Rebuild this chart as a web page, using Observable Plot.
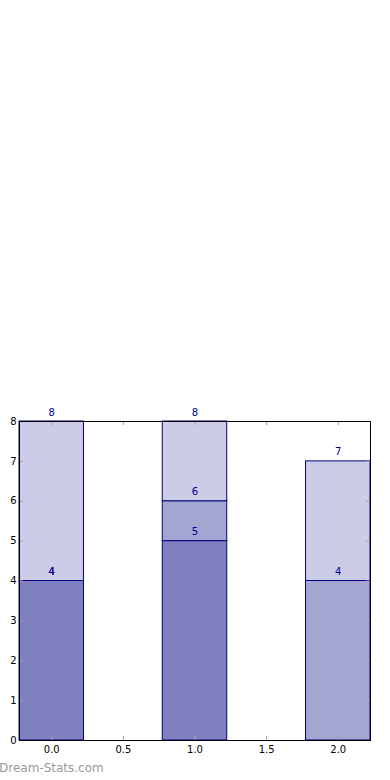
<!DOCTYPE html>
<html>
<head>
<meta charset="utf-8">
<script src="https://cdn.jsdelivr.net/npm/d3@7"></script>
<script src="https://cdn.jsdelivr.net/npm/@observablehq/plot@0.6"></script>
<style>
  html, body { margin: 0; padding: 0; background: #fff; }
  #wrap { position: relative; width: 390px; height: 780px; overflow: hidden; }
  #wm { position: absolute; left: -1px; top: 761px; font-family: "DejaVu Sans", sans-serif; font-size: 12px; color: #999999; }
</style>
</head>
<body>
<div id="wrap"><div id="chart"></div><div id="wm">Dream-Stats.com</div></div>
<script>
const categories = [0, 1, 2];
const seriesNames = ["dark", "medium", "light"];
const seriesDark = [4, 5, null];
const seriesMedium = [0, 1, 4];
const seriesLight = [4, 2, 3];
const seriesColors = ["#8080c0", "#a5a5d2", "#cccce6"];
const yTicks = [0, 1, 2, 3, 4, 5, 6, 7, 8];
const xTicks = [0, 0.5, 1, 1.5, 2];
const xTickLabels = ["0.0", "0.5", "1.0", "1.5", "2.0"];

const W = 390, H = 780, mT = 421, mB = 40, mL = 19, mR = 20;
const frameH = H - mT - mB, frameW = W - mL - mR;
const halfWidth = 0.225, tickLen = 4;

const allSeries = [seriesDark, seriesMedium, seriesLight];
const rows = [];
categories.forEach((c, i) => {
  let cum = 0;
  allSeries.forEach((s, k) => {
    const v = s[i];
    if (v == null) return;
    rows.push({x: c, y1: cum, y2: cum + v, series: seriesNames[k], label: cum + v, k});
    cum += v;
  });
});

const plot = Plot.plot({
  width: W, height: H,
  marginTop: mT, marginBottom: mB, marginLeft: mL, marginRight: mR,
  style: {fontFamily: "DejaVu Sans, sans-serif", fontSize: "10px", overflow: "visible", background: "white"},
  x: {domain: [-halfWidth, 2 + halfWidth]},
  y: {domain: [0, 8]},
  color: {domain: seriesNames, range: seriesColors},
  marks: [
    Plot.rectY(rows, {x1: d => d.x - halfWidth, x2: d => d.x + halfWidth, y1: "y1", y2: "y2", fill: "series", stroke: "#000080", strokeWidth: 1}),
    Plot.text(rows, {x: "x", y: "label", text: d => String(d.label), fill: "#000090", fontSize: 10, lineAnchor: "bottom", dy: -6, textAnchor: "middle"}),
    Plot.ruleX(xTicks, {x: d => d, stroke: "#a0a0a0", insetTop: frameH - tickLen}),
    Plot.ruleX(xTicks, {x: d => d, stroke: "#a0a0a0", insetBottom: frameH - tickLen}),
    Plot.ruleY(yTicks, {y: d => d, stroke: "#a0a0a0", insetRight: frameW - tickLen}),
    Plot.ruleY(yTicks, {y: d => d, stroke: "#a0a0a0", insetLeft: frameW - tickLen}),
    Plot.frame({stroke: "black", strokeWidth: 1}),
    Plot.axisX(xTicks, {anchor: "bottom", tickSize: 0, tickPadding: 5, tickFormat: d => xTickLabels[xTicks.indexOf(d)], fill: "black", fontSize: 10, label: null}),
    Plot.axisY(yTicks, {anchor: "left", tickSize: 0, tickPadding: 3, tickFormat: d => String(d), fill: "black", fontSize: 10, label: null})
  ]
});
document.getElementById("chart").appendChild(plot);
</script>
</body>
</html>
